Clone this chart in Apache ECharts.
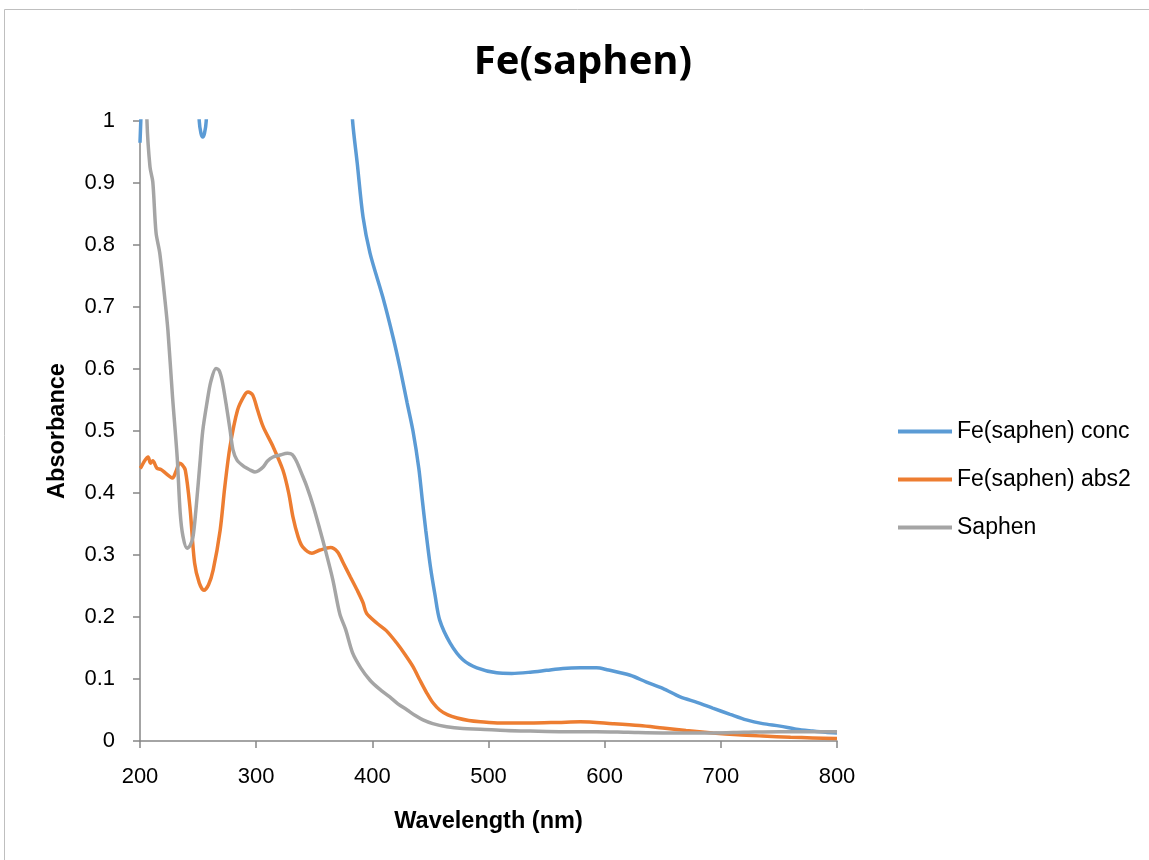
<!DOCTYPE html>
<html><head><meta charset="utf-8">
<script src="https://cdn.jsdelivr.net/npm/echarts@6/dist/echarts.min.js"></script>
<style>html,body{margin:0;padding:0;background:#fff}#c{width:1149px;height:860px}</style>
</head><body><div id="c"></div>
<script>
const seriesNames = ['Fe(saphen) conc', 'Fe(saphen) abs2', 'Saphen'];
const xTicks = [200, 300, 400, 500, 600, 700, 800];
const yTicks = [0, 0.1, 0.2, 0.3, 0.4, 0.5, 0.6, 0.7, 0.8, 0.9, 1];

const concX = [200,201.5,205,240,249,251,252.5,254,255.5,257,259,265,370,378,383,387,392,398,409,418,424,430,435,440,443,446,450,454,458,467,478,490,507,520,536,550,564,579,593,602,622,636,650,665,680,693,708,722,736,751,765,779,790,800];
const concY = [0.965,1.05,1.4,1.5,1.1,1.0,0.98,0.974,0.98,1.0,1.1,1.5,1.5,1.15,1.0,0.932,0.845,0.787,0.716,0.65,0.6,0.545,0.5,0.44,0.389,0.34,0.281,0.235,0.195,0.158,0.131,0.118,0.110,0.109,0.111,0.114,0.117,0.118,0.118,0.115,0.106,0.095,0.085,0.071,0.062,0.053,0.043,0.034,0.028,0.024,0.019,0.016,0.014,0.013];

const abs2X = [200,201,204,207,209,211,214.6,218,222,226,228,231,234,236,239,243,247,251,255,259,263,269,273,277.5,284,290,293,297,301,306,314.5,323,328,331.7,336,340,348,355,364,370,375,381,387,392,395,404,412,421,428,435,441,447,452,458,465,473,483,493,510,536,560,579,607,630,650,670,693,715,736,760,779,800];
const abs2Y = [0.44,0.442,0.452,0.458,0.448,0.452,0.44,0.438,0.432,0.426,0.424,0.435,0.448,0.446,0.437,0.377,0.287,0.255,0.243,0.252,0.276,0.34,0.41,0.475,0.534,0.558,0.563,0.558,0.535,0.507,0.475,0.437,0.40,0.361,0.33,0.313,0.303,0.308,0.312,0.305,0.287,0.265,0.243,0.223,0.206,0.19,0.178,0.158,0.14,0.12,0.098,0.077,0.062,0.05,0.042,0.037,0.033,0.031,0.029,0.029,0.030,0.031,0.028,0.025,0.021,0.017,0.013,0.010,0.008,0.006,0.005,0.004];

const saphenX = [200,204,206,208.6,211,213.8,217,221.5,224,228,232,234.6,237,240.5,243,245.6,248,251.6,254,257.6,261,265.4,268,270.6,274,277.5,280,283.5,290,295,299,302,306,310,314.5,320,327,331,335,339,343.7,349,355,360,366,372,377,383,390,398,406,415,422,430,437,443.6,452,464,478,493,515,536,565,593,620,650,693,720,751,780,800];
const saphenY = [1.5,1.2,1.0,0.926,0.902,0.82,0.787,0.711,0.663,0.555,0.458,0.368,0.33,0.311,0.315,0.329,0.37,0.448,0.5,0.545,0.58,0.601,0.598,0.582,0.545,0.502,0.47,0.453,0.442,0.437,0.434,0.436,0.442,0.452,0.458,0.461,0.464,0.462,0.45,0.432,0.41,0.38,0.34,0.305,0.26,0.205,0.18,0.142,0.118,0.098,0.084,0.071,0.06,0.05,0.041,0.034,0.028,0.023,0.02,0.019,0.017,0.016,0.015,0.015,0.014,0.013,0.013,0.014,0.015,0.015,0.015];

const colors = ['#5B9BD5', '#ED7D31', '#A5A5A5'];
const zip = (xs, ys) => xs.map((x, i) => [x, ys[i]]);
const font = 'Liberation Sans, Arial, sans-serif';
const titleFont = 'Open Sans, Liberation Sans, sans-serif';
const axisColor = '#868686';

const chart = echarts.init(document.getElementById('c'), null, {renderer: 'canvas'});
chart.setOption({
  animation: false,
  backgroundColor: '#fff',
  color: colors,
  title: {
    text: 'Fe(saphen)', left: 578, top: 38, textAlign: 'center',
    textStyle: {fontFamily: titleFont, fontSize: 40, fontWeight: 'bold', color: '#000'}
  },
  graphic: [{
    type: 'rect', shape: {x: 4.5, y: 9.5, width: 1200, height: 900},
    style: {fill: 'none', stroke: '#BFBFBF', lineWidth: 1}, silent: true
  }],
  legend: {
    orient: 'vertical', left: 893, top: 415, itemGap: 25,
    itemWidth: 54, itemHeight: 4, icon: 'rect',
    textStyle: {fontFamily: font, fontSize: 23, color: '#000'},
    data: seriesNames
  },
  grid: {left: 140, top: 121, right: 312, bottom: 119, containLabel: false},
  xAxis: {
    type: 'value', min: 200, max: 800, interval: 100,
    name: 'Wavelength (nm)', nameLocation: 'middle', nameGap: 69,
    nameTextStyle: {fontFamily: font, fontSize: 23.5, fontWeight: 'bold', color: '#000'},
    axisLine: {lineStyle: {color: axisColor, width: 1.5}},
    axisTick: {show: true, length: 7, lineStyle: {color: axisColor, width: 1.5}},
    axisLabel: {fontFamily: font, fontSize: 22, color: '#000', margin: 25},
    splitLine: {show: false}
  },
  yAxis: {
    type: 'value', min: 0, max: 1, interval: 0.1,
    name: 'Absorbance', nameLocation: 'middle', nameGap: 70, nameRotate: 90,
    nameTextStyle: {fontFamily: font, fontSize: 23.5, fontWeight: 'bold', color: '#000'},
    axisLine: {show: true, lineStyle: {color: axisColor, width: 1.5}},
    axisTick: {show: true, length: 7, lineStyle: {color: axisColor, width: 1.5}},
    axisLabel: {fontFamily: font, fontSize: 22, color: '#000', margin: 25},
    splitLine: {show: false}
  },
  series: [
    {name: seriesNames[0], type: 'line', data: zip(concX, concY), symbol: 'none', smooth: 0.3, clip: true, lineStyle: {width: 3.5}},
    {name: seriesNames[1], type: 'line', data: zip(abs2X, abs2Y), symbol: 'none', smooth: 0.3, clip: true, lineStyle: {width: 3.5}},
    {name: seriesNames[2], type: 'line', data: zip(saphenX, saphenY), symbol: 'none', smooth: 0.3, clip: true, lineStyle: {width: 3.5}}
  ]
});
</script></body></html>
